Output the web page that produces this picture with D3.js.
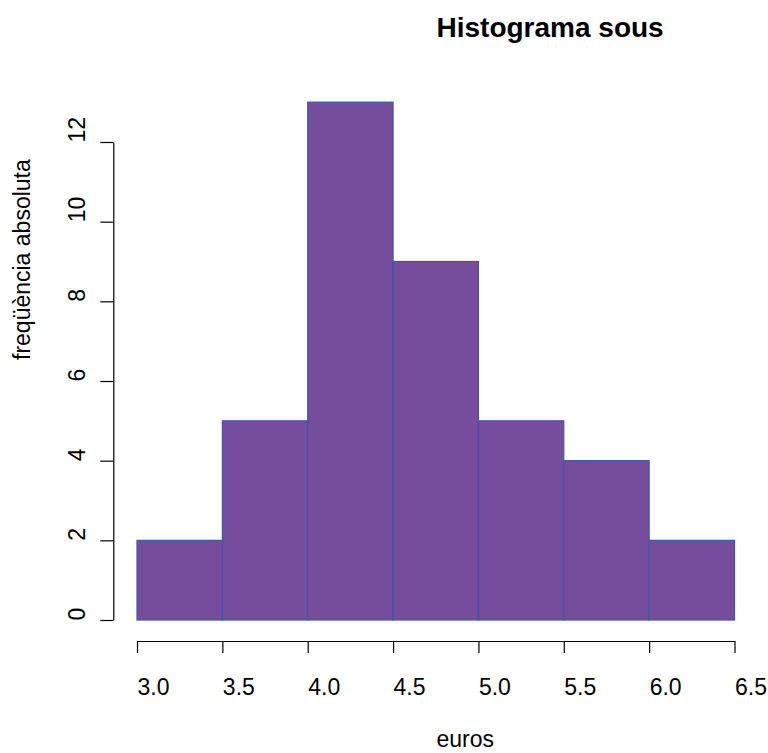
<!DOCTYPE html>
<html>
<head>
<meta charset="utf-8">
<script src="https://cdn.jsdelivr.net/npm/d3@7"></script>
<style>
  body { margin: 0; background: #fff; }
  svg { display: block; font-family: "Liberation Sans", Arial, sans-serif; }
</style>
</head>
<body>
<svg></svg>
<script>
var width = 768;
var height = 753;

// histogram data
var breaks = [3.0, 3.5, 4.0, 4.5, 5.0, 5.5, 6.0, 6.5];
var counts = [2, 5, 13, 9, 5, 4, 2];
var yTicks = [0, 2, 4, 6, 8, 10, 12];
var title = "Histograma sous";
var xTitle = "euros";
var yTitle = "freqüència absoluta";

var svg = d3.select("svg")
  .attr("width", width)
  .attr("height", height);

var xScale = d3.scaleLinear().domain([3, 6.5]).range([137, 734.5]);
var yScale = d3.scaleLinear().domain([0, 12]).range([620, 142]);

var bins = counts.map(function(c, i){
  return {x0: breaks[i], x1: breaks[i + 1], n: c};
});

// bars
svg.append("g").selectAll("rect")
  .data(bins)
  .enter().append("rect")
  .attr("x", d => xScale(d.x0))
  .attr("y", d => yScale(d.n))
  .attr("width", d => xScale(d.x1) - xScale(d.x0))
  .attr("height", d => yScale(0) - yScale(d.n))
  .attr("fill", "#764c9c")
  .attr("stroke", "#3f55ad")
  .attr("stroke-width", 1.2);

// x axis
var xAxis = d3.axisBottom(xScale)
  .tickValues(breaks)
  .tickFormat(d3.format(".1f"))
  .tickSize(12)
  .tickSizeOuter(0);

var gx = svg.append("g")
  .attr("transform", "translate(0,641)")
  .call(xAxis);
gx.selectAll("text")
  .attr("text-anchor", "start")
  .attr("y", 54)
  .attr("dy", null)
  .attr("fill", "#000")
  .style("font-size", "23px");

// y axis
var yAxis = d3.axisLeft(yScale)
  .tickValues(yTicks)
  .tickSize(13)
  .tickSizeOuter(0);

var gy = svg.append("g")
  .attr("transform", "translate(113.3,0)")
  .call(yAxis);
gy.selectAll("text")
  .attr("text-anchor", "start")
  .attr("transform", "rotate(-90)")
  .attr("x", 0)
  .attr("y", -28.3)
  .attr("dy", null)
  .attr("fill", "#000")
  .style("font-size", "23px");

svg.selectAll(".domain, .tick line")
  .attr("stroke", "#000")
  .attr("stroke-width", 1.2);

// titles
svg.append("text")
  .attr("x", 436.5)
  .attr("y", 37)
  .attr("text-anchor", "start")
  .style("font-size", "28px")
  .style("font-weight", "bold")
  .text(title);

svg.append("text")
  .attr("x", 436.5)
  .attr("y", 747)
  .attr("text-anchor", "start")
  .style("font-size", "23px")
  .text(xTitle);

svg.append("text")
  .attr("transform", "translate(30,360) rotate(-90)")
  .attr("text-anchor", "start")
  .style("font-size", "23px")
  .text(yTitle);
</script>
</body>
</html>
